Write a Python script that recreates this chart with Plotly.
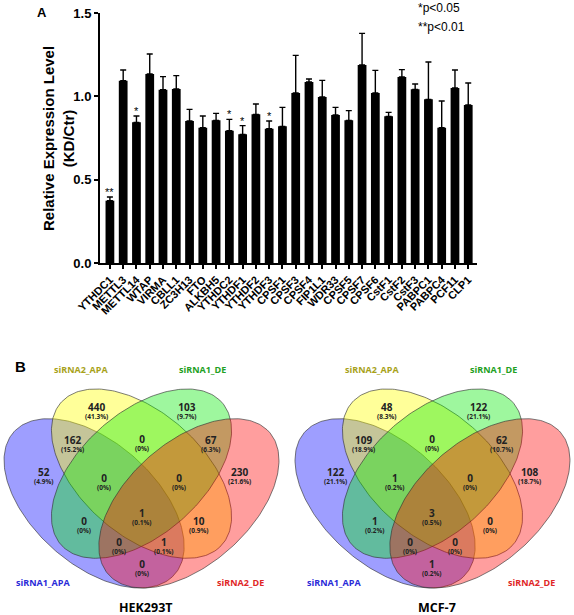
import numpy as np
import plotly.graph_objects as go

# ---------------- Panel A data ----------------
genes = ["YTHDC1", "METTL3", "METTL14", "WTAP", "VIRMA", "CBLL1", "ZC3H13", "FTO",
         "ALKBH5", "YTHDC2", "YTHDF1", "YTHDF2", "YTHDF3", "CPSF1", "CPSF3", "CPSF4",
         "FIP1L1", "WDR33", "CPSF5", "CPSF7", "CPSF6", "CstF1", "CstF2", "CstF3",
         "PABPC1", "PABPC4", "PCF11", "CLP1"]
expr = [0.374, 1.094, 0.844, 1.134, 1.040, 1.044, 0.852, 0.812, 0.856, 0.794, 0.772, 0.892,
        0.806, 0.820, 1.020, 1.086, 0.996, 0.888, 0.856, 1.188, 1.020, 0.880, 1.116, 1.042,
        0.982, 0.812, 1.050, 0.948]
err = [0.022, 0.064, 0.038, 0.120, 0.078, 0.080, 0.070, 0.070, 0.042, 0.068, 0.052, 0.062,
       0.046, 0.114, 0.226, 0.018, 0.100, 0.046, 0.058, 0.190, 0.136, 0.024, 0.044, 0.032,
       0.224, 0.160, 0.108, 0.132]
sig = ["**", "", "*", "", "", "", "", "", "", "*", "*", "", "*", "", "", "",
       "", "", "", "", "", "", "", "", "", "", "", ""]
y_ticks = [0.0, 0.5, 1.0, 1.5]
y_ticklabels = ["0.0", "0.5", "1.0", "1.5"]

# ---------------- Panel B data ----------------
set_names = ["siRNA1_APA", "siRNA2_APA", "siRNA1_DE", "siRNA2_DE"]
regions = ["Y", "G", "BY", "YG", "GR", "B", "BYG", "YGR", "R", "BG", "BYGR", "YR", "BGR", "BYR", "BR"]
hek_counts = [440, 103, 162, 0, 67, 52, 0, 0, 230, 0, 1, 10, 0, 1, 0]
hek_pcts = ["41.3%", "9.7%", "15.2%", "0%", "6.3%", "4.9%", "0%", "0%", "21.6%", "0%",
            "0.1%", "0.9%", "0%", "0.1%", "0%"]
mcf_counts = [48, 122, 109, 0, 62, 122, 1, 0, 108, 1, 3, 0, 0, 0, 1]
mcf_pcts = ["8.3%", "21.1%", "18.9%", "0%", "10.7%", "21.1%", "0.2%", "0%", "18.7%", "0.2%",
            "0.5%", "0%", "0%", "0%", "0.2%"]
cell_lines = ["HEK293T", "MCF-7"]

# ---------------- layout helpers ----------------
W, H = 574, 615
def px(x):
    return x / W
def py(y):
    return 1 - y / H

fig = go.Figure()

# Panel A bars
fig.add_trace(go.Bar(
    x=genes, y=expr, width=0.66, marker=dict(color="black", line=dict(width=0)),
    error_y=dict(type="data", array=err, arrayminus=[0] * len(err), symmetric=False,
                 color="black", thickness=1.4, width=3),
    xaxis="x", yaxis="y", showlegend=False, hoverinfo="skip"))

annotations = []
for g, v, e, s in zip(genes, expr, err, sig):
    if s:
        annotations.append(dict(x=g, y=v + e, xref="x", yref="y", text=s, showarrow=False,
                                xanchor="center", yanchor="bottom", yshift=-3,
                                font=dict(family="Liberation Sans", size=11, color="black")))

# Venn geometry (unit coordinates), R VennDiagram-like quad layout
ell_centers = [(0.35, 0.47), (0.50, 0.57), (0.50, 0.57), (0.65, 0.47)]
ell_angles = [-45, -45, 45, 45]
ell_a, ell_b = 0.35, 0.20
ell_fill = ["rgba(0,0,255,0.38)", "rgba(255,255,0,0.40)", "rgba(0,235,0,0.38)", "rgba(255,0,0,0.38)"]
label_colors = ["#2a2ad8", "#a8a21a", "#23a023", "#e02626"]
label_pos = [(0.187, 0.202), (0.307, 0.919), (0.693, 0.919), (0.813, 0.202)]
region_pos = {
    "Y": (0.356, 0.791), "G": (0.644, 0.791), "BY": (0.2815, 0.678), "YG": (0.5, 0.683),
    "GR": (0.7185, 0.678), "B": (0.1915, 0.572), "BYG": (0.381, 0.549), "YGR": (0.619, 0.549),
    "R": (0.8085, 0.572), "BG": (0.318, 0.404), "BYGR": (0.5, 0.431), "YR": (0.682, 0.404),
    "BGR": (0.429, 0.336), "BYR": (0.571, 0.336), "BR": (0.5, 0.262)}

t = np.linspace(0, 2 * np.pi, 240)
venn_axes = [("x2", "y2"), ("x3", "y3")]
venn_counts = [hek_counts, mcf_counts]
venn_pcts = [hek_pcts, mcf_pcts]

for k, (xa, ya) in enumerate(venn_axes):
    for (cx, cy), ang, fc in zip(ell_centers, ell_angles, ell_fill):
        th = np.deg2rad(ang)
        ex = cx + ell_a * np.cos(t) * np.cos(th) - ell_b * np.sin(t) * np.sin(th)
        ey = cy + ell_a * np.cos(t) * np.sin(th) + ell_b * np.sin(t) * np.cos(th)
        fig.add_trace(go.Scatter(x=ex, y=ey, mode="lines", fill="toself", fillcolor=fc,
                                 line=dict(color="rgba(50,50,50,0.8)", width=0.8),
                                 xaxis=xa, yaxis=ya, showlegend=False, hoverinfo="skip"))
    for r, c, p in zip(regions, venn_counts[k], venn_pcts[k]):
        u, v = region_pos[r]
        annotations.append(dict(
            x=u, y=v, xref=xa, yref=ya, showarrow=False, xanchor="center", yanchor="middle",
            yshift=-2,
            text="<span style='font-size:10px'><b>%d</b></span><br><b>(%s)</b>" % (c, p),
            font=dict(family="Open Sans", size=6.5, color="#222222")))
    for name, (u, v), col in zip(set_names, label_pos, label_colors):
        annotations.append(dict(x=u, y=v, xref=xa, yref=ya, text="<b>%s</b>" % name, showarrow=False,
                                xanchor="center", yanchor="middle",
                                font=dict(family="Open Sans", size=9, color=col)))
    annotations.append(dict(x=0.515, y=0.12, xref=xa, yref=ya, text="<b>%s</b>" % cell_lines[k],
                            showarrow=False, xanchor="center", yanchor="middle",
                            font=dict(family="Open Sans", size=12.5, color="black")))

# Panel texts
annotations += [
    dict(x=px(42), y=py(12), xref="paper", yref="paper", text="<b>A</b>", showarrow=False,
         xanchor="center", yanchor="middle",
         font=dict(family="Liberation Sans", size=13, color="black")),
    dict(x=px(20), y=py(366), xref="paper", yref="paper", text="<b>B</b>", showarrow=False,
         xanchor="center", yanchor="middle",
         font=dict(family="Liberation Sans", size=15, color="black")),
    dict(x=px(416), y=py(8), xref="paper", yref="paper", text="*p<0.05", showarrow=False,
         xanchor="left", yanchor="middle",
         font=dict(family="Liberation Sans", size=12, color="black")),
    dict(x=px(416), y=py(27), xref="paper", yref="paper", text="**p<0.01", showarrow=False,
         xanchor="left", yanchor="middle",
         font=dict(family="Liberation Sans", size=12, color="black")),
    dict(x=px(58), y=py(139), xref="paper", yref="paper", textangle=-90,
         text="<b>Relative Expression Level<br>(KD/Ctr)</b>", showarrow=False,
         xanchor="center", yanchor="middle",
         font=dict(family="Liberation Sans", size=15, color="black")),
]

fig.update_layout(
    template="none",
    width=W, height=H, margin=dict(l=0, r=0, t=0, b=0, pad=0, autoexpand=False),
    paper_bgcolor="white", plot_bgcolor="rgba(0,0,0,0)",
    showlegend=False, bargap=0.3,
    xaxis=dict(domain=[px(100), px(477)], range=[-0.747, 27.66], showline=True, linecolor="black",
               linewidth=2, ticks="outside", ticklen=4, tickwidth=1.5, tickcolor="black",
               tickangle=-45, showgrid=False, zeroline=False, automargin=False,
               tickfont=dict(family="Liberation Sans", size=11, color="black", weight="bold")),
    yaxis=dict(domain=[py(263), py(13)], range=[0, 1.5], tickvals=y_ticks, ticktext=y_ticklabels,
               showline=True, linecolor="black", linewidth=2, ticks="outside", ticklen=4,
               tickwidth=1.5, tickcolor="black", showgrid=False, zeroline=False, automargin=False,
               tickfont=dict(family="Liberation Sans", size=13, color="black", weight="bold")),
    xaxis2=dict(domain=[0, px(290)], range=[0.0522, 0.9699], visible=False, fixedrange=True),
    yaxis2=dict(domain=[0, py(360)], range=[0.0941, 0.9526], visible=False, fixedrange=True),
    xaxis3=dict(domain=[px(290), 1], range=[0.0491, 0.9478], visible=False, fixedrange=True),
    yaxis3=dict(domain=[0, py(360)], range=[0.0941, 0.9526], visible=False, fixedrange=True),
    annotations=annotations,
)

fig.write_html("out.html", config={"displayModeBar": False},
               post_script="document.body.style.margin='0';document.body.style.overflow='hidden';")
